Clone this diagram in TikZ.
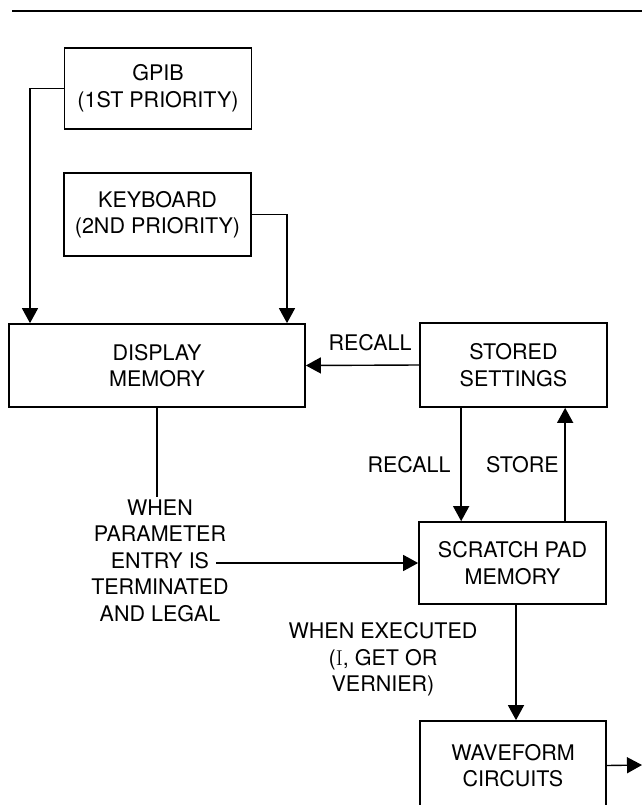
\documentclass[tikz,border=0pt]{standalone}
\usepackage{fontspec}
\setsansfont{TeX Gyre Heros}
\usetikzlibrary{arrows.meta, calc}

\begin{document}
\begin{tikzpicture}[
        ->,
        >={Triangle[length=15pt, width=16pt]},
        line width=1.4pt,
        every node/.style={font=\sffamily\fontsize{21.5}{26.5}\selectfont, align=center, inner sep=2pt},
        blk/.style={draw, line width=1.7pt, minimum width=187pt, minimum height=83pt},
        yscale=-1,
        x=1pt,
        y=1pt
    ]
    \path[use as bounding box, clip] (0,0) rectangle (642,805);

    % rule over the figure
    \draw[-, line width=1.8pt] (12,11) -- (642,11);

    \node[blk, minimum height=81pt] (gpib) at (158,88.5) {GPIB\\(1ST PRIORITY)};
    \node[blk] (kbd) at (157.5,214.5) {KEYBOARD\\(2ND PRIORITY)};
    \node[blk, minimum width=296pt] (disp) at (157,365.5) {DISPLAY\\MEMORY};
    \node[blk, minimum height=84pt] (stored) at (513.5,365) {STORED\\SETTINGS};
    \node[blk, minimum height=82pt] (pad) at (512.5,563) {SCRATCH PAD\\MEMORY};
    \node[blk, minimum width=186pt, minimum height=89pt] (wave) at (513,765.5) {WAVEFORM\\CIRCUITS};

    \node (cond) at (160,560.5) {WHEN\\PARAMETER\\ENTRY IS\\TERMINATED\\AND LEGAL};
    \node (exec) at (383,659.5) {WHEN EXECUTED\\({\rmfamily I}, GET OR\\VERNIER)};
    \node (rcl) at (370,343) {RECALL};
    \node (rcldown) at (409,465) {RECALL};
    \node (sto) at (522.5,465) {STORE};

    \coordinate (gpibx) at (30,0);
    \coordinate (kbdx) at (287,0);
    \coordinate (entry) at (216,563);
    \coordinate (out) at (642,765);

    \draw (gpib.west) -| (gpibx |- disp.north);
    \draw (kbd.east) -| (kbdx |- disp.north);
    \draw (stored.west) -- (disp.east);
    \draw ($(stored.south west)+(42,0)$) -- ($(pad.north west)+(43,0)$);
    \draw ($(pad.north west)+(147,0)$) -- ($(stored.south west)+(146,0)$);
    \draw[-] (disp.south) -- (disp.south |- cond.north);
    \draw (entry) -- (pad.west);
    \draw ($(pad.south)+(3.5,0)$) -- ($(wave.north)+(3,0)$);
    \draw (wave.east) -- (out);
\end{tikzpicture}
\end{document}
